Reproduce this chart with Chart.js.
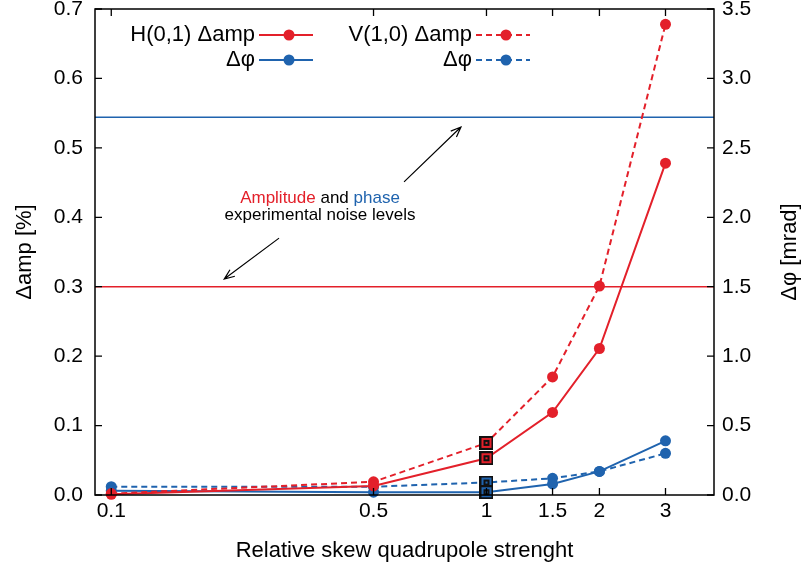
<!DOCTYPE html>
<html>
<head>
<meta charset="utf-8">
<title>Skew quadrupole scan</title>
<script src="https://cdn.jsdelivr.net/npm/chart.js@4.4.1/dist/chart.umd.min.js"></script>
<style>
  body { margin: 0; background: #fff; }
  canvas { display: block; }
</style>
</head>
<body>
<canvas id="chart" width="801" height="569"></canvas>
<script>
"use strict";

// Data
var strength = [0.1, 0.5, 1, 1.5, 2, 3];
var hAmp   = [0.001, 0.013, 0.053, 0.119, 0.211, 0.478];   // %
var vAmp   = [0.002, 0.019, 0.075, 0.170, 0.301, 0.678];   // %
var hPhase = [0.03, 0.02, 0.02, 0.08, 0.17, 0.39];         // mrad
var vPhase = [0.06, 0.06, 0.09, 0.12, 0.17, 0.30];         // mrad
var ampNoise = 0.3;     // %
var phaseNoise = 2.72;  // mrad

var xMin = 0.0905, xMax = 4.04;
var red = '#e3202a';
var blue = '#1f63ae';
var fontFamily = '"Liberation Sans", Arial, Helvetica, sans-serif';

// annotation positions (data coordinates, left axis)
var noteAt = {x: 0.36, y: 0.416};
var arrows = [
    {from: [0.603, 0.451], to: [0.855, 0.530]},
    {from: [0.280, 0.370], to: [0.200, 0.311]}
];

Chart.defaults.font.family = fontFamily;
Chart.defaults.font.size = 21;
Chart.defaults.color = '#000';

// square marker used for the reference point at strength 1
function squareMarker(color) {
    var c = document.createElement('canvas');
    c.width = 14; c.height = 14;
    var g = c.getContext('2d');
    g.fillStyle = '#111'; g.fillRect(0, 0, 14, 14);
    g.fillStyle = color;  g.fillRect(2, 2, 10, 10);
    g.fillStyle = '#111'; g.fillRect(4, 4, 6, 6);
    g.fillStyle = color;  g.fillRect(6, 6, 2, 2);
    return c;
}

function series(label, values, color, dashed, axis) {
    var marker = squareMarker(color);
    return {
        label: label,
        data: strength.map(function (s, i) { return {x: s, y: values[i]}; }),
        yAxisID: axis,
        borderColor: color,
        backgroundColor: color,
        borderWidth: 2,
        borderDash: dashed ? [6, 4] : [],
        pointRadius: 5.5,
        pointHoverRadius: 5.5,
        pointBorderWidth: 0,
        pointStyle: function (ctx) {
            return strength[ctx.dataIndex] === 1 ? marker : 'circle';
        },
        clip: false,
        tension: 0,
        dashed: dashed
    };
}

function level(value, color, axis) {
    return {
        data: [{x: xMin, y: value}, {x: xMax, y: value}],
        yAxisID: axis,
        borderColor: color,
        borderWidth: 1.5,
        pointRadius: 0
    };
}

// Inner ticks, frame and right axis title
var frame = {
    id: 'frame',
    afterDraw: function (chart) {
        var g = chart.ctx, a = chart.chartArea;
        var sx = chart.scales.x, sy = chart.scales.y, sy2 = chart.scales.y2;
        g.save();
        g.strokeStyle = '#000';
        g.lineWidth = 1.3;
        g.beginPath();
        sx.ticks.forEach(function (t) {
            var px = sx.getPixelForValue(t.value);
            g.moveTo(px, a.bottom); g.lineTo(px, a.bottom - 7);
            g.moveTo(px, a.top); g.lineTo(px, a.top + 7);
        });
        sy.ticks.forEach(function (t) {
            var py = sy.getPixelForValue(t.value);
            g.moveTo(a.left, py); g.lineTo(a.left + 7, py);
        });
        sy2.ticks.forEach(function (t) {
            var py = sy2.getPixelForValue(t.value);
            g.moveTo(a.right, py); g.lineTo(a.right - 7, py);
        });
        g.stroke();
        g.lineWidth = 1.5;
        g.strokeRect(a.left, a.top, a.width, a.height);

        g.font = '22px ' + fontFamily;
        g.fillStyle = '#000';
        g.textAlign = 'center';
        g.textBaseline = 'middle';
        g.translate(790, (a.top + a.bottom) / 2);
        g.rotate(-Math.PI / 2);
        g.fillText('Δφ [mrad]', 0, 0);
        g.restore();
    }
};

// Legend, two columns, text right-aligned before the sample
var legendBox = {
    id: 'legendBox',
    afterDraw: function (chart) {
        var g = chart.ctx;
        var colRight = [255, 472], rowY = [35, 60];
        g.save();
        g.font = '22px ' + fontFamily;
        g.textAlign = 'right';
        g.textBaseline = 'middle';
        for (var i = 0; i < 4; i++) {
            var ds = chart.data.datasets[i];
            var col = ds.dashed ? 1 : 0, row = ds.yAxisID === 'y' ? 0 : 1;
            var tx = colRight[col], ty = rowY[row];
            g.fillStyle = '#000';
            g.fillText(ds.label, tx, ty);
            g.strokeStyle = ds.borderColor;
            g.lineWidth = 2;
            g.setLineDash(ds.borderDash);
            g.beginPath();
            g.moveTo(tx + 4, ty); g.lineTo(tx + 58, ty);
            g.stroke();
            g.setLineDash([]);
            g.fillStyle = ds.borderColor;
            g.beginPath();
            g.arc(tx + 34, ty, 5.5, 0, Math.PI * 2);
            g.fill();
        }
        g.restore();
    }
};

// Noise level note with arrows
var note = {
    id: 'note',
    afterDraw: function (chart) {
        var g = chart.ctx, sx = chart.scales.x, sy = chart.scales.y;
        var cx = sx.getPixelForValue(noteAt.x), cy = sy.getPixelForValue(noteAt.y);
        g.save();
        g.font = '17px ' + fontFamily;
        g.textBaseline = 'middle';
        var parts = [['Amplitude', red], [' and ', '#000'], ['phase', blue]];
        var w = 0;
        parts.forEach(function (p) { w += g.measureText(p[0]).width; });
        var x = cx - w / 2;
        g.textAlign = 'left';
        parts.forEach(function (p) {
            g.fillStyle = p[1];
            g.fillText(p[0], x, cy - 8);
            x += g.measureText(p[0]).width;
        });
        g.fillStyle = '#000';
        g.textAlign = 'center';
        g.fillText('experimental noise levels', cx, cy + 9);

        g.strokeStyle = '#000';
        g.lineWidth = 1.2;
        arrows.forEach(function (ar) {
            var x1 = sx.getPixelForValue(ar.from[0]), y1 = sy.getPixelForValue(ar.from[1]);
            var x2 = sx.getPixelForValue(ar.to[0]), y2 = sy.getPixelForValue(ar.to[1]);
            var ang = Math.atan2(y2 - y1, x2 - x1), len = 11, spread = 0.38;
            g.beginPath();
            g.moveTo(x1, y1); g.lineTo(x2, y2);
            g.moveTo(x2 - len * Math.cos(ang - spread), y2 - len * Math.sin(ang - spread));
            g.lineTo(x2, y2);
            g.lineTo(x2 - len * Math.cos(ang + spread), y2 - len * Math.sin(ang + spread));
            g.stroke();
        });
        g.restore();
    }
};

var ctx = document.getElementById('chart').getContext('2d');
var myChart = new Chart(ctx, {
    type: 'line',
    data: {
        datasets: [
            series('H(0,1) Δamp', hAmp, red, false, 'y'),
            series('V(1,0) Δamp', vAmp, red, true, 'y'),
            series('Δφ', hPhase, blue, false, 'y2'),
            series('Δφ', vPhase, blue, true, 'y2'),
            level(ampNoise, red, 'y'),
            level(phaseNoise, blue, 'y2')
        ]
    },
    options: {
        responsive: false,
        animation: false,
        devicePixelRatio: 1,
        layout: {padding: {top: 9, left: 0, right: 0, bottom: 0}},
        plugins: {legend: {display: false}, tooltip: {enabled: false}},
        scales: {
            x: {
                type: 'logarithmic',
                min: xMin,
                max: xMax,
                afterBuildTicks: function (s) {
                    s.ticks = strength.map(function (v) { return {value: v}; });
                },
                afterFit: function (s) {
                    s.height = 74; s.paddingLeft = 0; s.paddingRight = 0;
                },
                grid: {display: false, drawTicks: false},
                border: {display: false},
                ticks: {
                    padding: 4, maxRotation: 0, autoSkip: false,
                    callback: function (v) { return String(v); }
                },
                title: {
                    display: true,
                    text: 'Relative skew quadrupole strenght',
                    font: {size: 22},
                    padding: {top: 0, bottom: 5}
                }
            },
            y: {
                position: 'left',
                min: 0,
                max: 0.7,
                afterFit: function (s) {
                    s.width = 95; s.paddingTop = 0; s.paddingBottom = 0;
                },
                grid: {display: false, drawTicks: false},
                border: {display: false},
                ticks: {
                    stepSize: 0.1, padding: 12,
                    callback: function (v) { return v.toFixed(1); }
                },
                title: {
                    display: true,
                    text: 'Δamp [%]',
                    font: {size: 22},
                    padding: {top: 12, bottom: 0}
                }
            },
            y2: {
                position: 'right',
                min: 0,
                max: 3.5,
                afterFit: function (s) {
                    s.width = 87; s.paddingTop = 0; s.paddingBottom = 0;
                },
                grid: {display: false, drawTicks: false},
                border: {display: false},
                ticks: {
                    stepSize: 0.5, padding: 8,
                    callback: function (v) { return v.toFixed(1); }
                }
            }
        }
    },
    plugins: [frame, legendBox, note]
});
</script>
</body>
</html>
